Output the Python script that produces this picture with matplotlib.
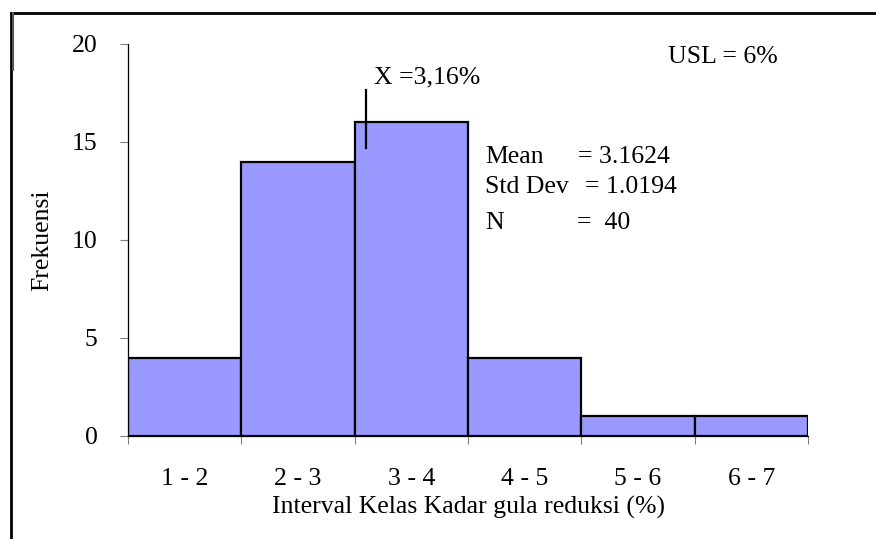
import matplotlib.pyplot as plt
import numpy as np
from matplotlib.lines import Line2D

plt.rcParams['font.family'] = ['Liberation Serif', 'DejaVu Serif']

# data
kelas = ['1 - 2', '2 - 3', '3 - 4', '4 - 5', '5 - 6', '6 - 7']
frekuensi = [4, 14, 16, 4, 1, 1]
mean_val = 3.16
y_ticks = [0, 5, 10, 15, 20]

fs = 18.5
fig = plt.figure(figsize=(8.76, 5.39), dpi=100)
ax = fig.add_axes([128/876, 1 - 436/539, 680/876, 392/539])

x = np.arange(len(kelas))
ax.bar(x, frekuensi, width=1.0, align='edge', color='#9999FF',
       edgecolor='black', linewidth=1.6)

ax.set_xlim(0, len(kelas))
ax.set_ylim(0, 20)
ax.set_yticks(y_ticks)
ax.set_xticks(np.arange(len(kelas) + 1))
ax.set_xticklabels([])
ax.set_xticks(x + 0.5, minor=True)
ax.set_xticklabels(kelas, minor=True, fontsize=fs)
ax.tick_params(axis='x', which='minor', length=0, pad=23)
ax.tick_params(axis='x', which='major', length=6, color='#808080')
ax.tick_params(axis='y', length=6, color='#808080', labelsize=fs, pad=16)

for s in ['top', 'right']:
    ax.spines[s].set_visible(False)
ax.spines['left'].set_linewidth(0.9)
ax.spines['bottom'].set_linewidth(0.9)

ax.set_ylabel('Frekuensi', fontsize=fs, labelpad=13)
ax.set_xlabel('Interval Kelas Kadar gula reduksi (%)', fontsize=fs, labelpad=4)

# garis rata-rata
mx = mean_val - 1 - 0.06
ax.plot([mx, mx], [14.7, 17.65], color='black', linewidth=1.6, clip_on=False)
ax.text(mx + 0.07, 18.3, 'X =3,16%', fontsize=fs, va='center', ha='left')

ax.text(4.765, 19.34, 'USL = 6%', fontsize=fs, va='center', ha='left')
ax.text(3.15, 14.23, 'Mean', fontsize=fs, va='center')
ax.text(3.97, 14.23, '= 3.1624', fontsize=fs, va='center')
ax.text(3.15, 12.7, 'Std Dev', fontsize=fs, va='center')
ax.text(4.03, 12.7, '= 1.0194', fontsize=fs, va='center')
ax.text(3.15, 10.87, 'N', fontsize=fs, va='center')
ax.text(3.96, 10.87, '=  40', fontsize=fs, va='center')

# bingkai
fig.add_artist(Line2D([11/876, 1], [1 - 13/539, 1 - 13/539], color='black', linewidth=2))
fig.add_artist(Line2D([11/876, 11/876], [0, 1 - 13/539], color='black', linewidth=2))
fig.add_artist(Line2D([12.5/876, 12.5/876], [1 - 70/539, 1 - 13/539], color='#555555', linewidth=1.5))

fig.savefig('out.png', dpi=100)
